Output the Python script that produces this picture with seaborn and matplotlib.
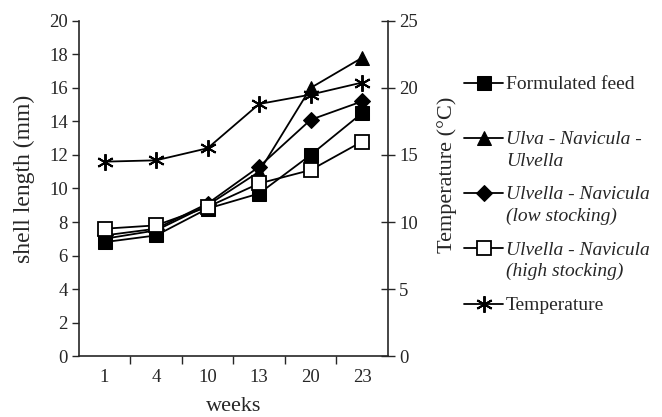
import matplotlib
matplotlib.use("Agg")
import matplotlib.pyplot as plt
import seaborn as sns
import numpy as np

weeks = ["1", "4", "10", "13", "20", "23"]
formulated = [6.8, 7.2, 8.8, 9.7, 12.0, 14.5]
ulva = [7.0, 7.5, 9.0, 11.0, 16.0, 17.8]
ulvella_low = [7.2, 7.6, 9.1, 11.3, 14.1, 15.2]
ulvella_high = [7.6, 7.8, 8.9, 10.3, 11.1, 12.8]
temperature = [14.5, 14.6, 15.5, 18.8, 19.5, 20.4]

labels = ["Formulated feed\n", "Ulva - Navicula -\nUlvella",
          "Ulvella - Navicula\n(low stocking)", "Ulvella - Navicula\n(high stocking)",
          "Temperature"]

sns.set_style("ticks")
plt.rcParams['font.family'] = ['Liberation Serif', 'DejaVu Serif']
plt.rcParams['font.size'] = 13.5

fig = plt.figure(figsize=(6.62, 4.17), dpi=100)
ax = fig.add_axes([0.119, 0.146, 0.467, 0.804])
ax2 = ax.twinx()

x = np.arange(len(weeks))
common = dict(color="black", linewidth=1.3, markeredgecolor="black", markersize=9.5)
sns.lineplot(x=x, y=formulated, ax=ax, marker="s", markerfacecolor="black", label=labels[0], **common)
sns.lineplot(x=x, y=ulva, ax=ax, marker="^", markerfacecolor="black", label=labels[1], **common)
sns.lineplot(x=x, y=ulvella_low, ax=ax, marker="D", markerfacecolor="black", label=labels[2],
             **{**common, "markersize": 8})
sns.lineplot(x=x, y=ulvella_high, ax=ax, marker="s", markerfacecolor="white", label=labels[3],
             **{**common, "markeredgewidth": 1.3})
sns.lineplot(x=x, y=temperature, ax=ax2, marker=(6, 2, 0), label=labels[4],
             **{**common, "markersize": 12, "markeredgewidth": 1.4})

ax.set_xlim(-0.5, 5.5)
ax.set_ylim(0, 20)
ax2.set_ylim(0, 25)
ax.set_yticks(np.arange(0, 21, 2))
ax2.set_yticks(np.arange(0, 26, 5))
ax.set_xticks(x)
ax.set_xticklabels(weeks)
ax.set_xticks(np.arange(0.5, 5.0, 1.0), minor=True)
ax.tick_params(axis="x", which="major", length=0, pad=9)
ax.tick_params(axis="x", which="minor", length=6, width=1, direction="out")
ax.tick_params(axis="y", length=5, width=1, direction="out", pad=3)
ax2.tick_params(axis="y", length=10, width=1, direction="inout", pad=3)

for a in (ax, ax2):
    a.spines["top"].set_visible(False)
    for s in a.spines.values():
        s.set_linewidth(1.2)
ax.spines["right"].set_visible(False)
ax2.spines["left"].set_visible(False)
ax2.spines["bottom"].set_visible(False)

ax.set_xlabel("weeks", fontsize=16)
ax.xaxis.set_label_coords(0.5, -0.122)
ax.set_ylabel("shell length (mm)", fontsize=17)
ax.yaxis.set_label_coords(-0.143, 0.53)
ax2.set_ylabel("Temperature (\u00b0C)", fontsize=16)
ax2.yaxis.set_label_coords(1.158, 0.54)

h1, l1 = ax.get_legend_handles_labels()
h2, l2 = ax2.get_legend_handles_labels()
ax.get_legend().remove()
ax2.get_legend().remove()
leg = fig.legend(h1 + h2, l1 + l2, loc="upper left", bbox_to_anchor=(0.675, 0.86),
                 frameon=False, handlelength=2.0, handletextpad=0.15, labelspacing=0.85,
                 fontsize=14)
for i, t in enumerate(leg.get_texts()):
    t.set_linespacing(1.35)
    if i in (1, 2, 3):
        t.set_fontstyle("italic")
for col in leg._legend_handle_box.get_children():
    for hp in col.get_children():
        hp.align = "top"

fig.savefig("out.png", dpi=100)
